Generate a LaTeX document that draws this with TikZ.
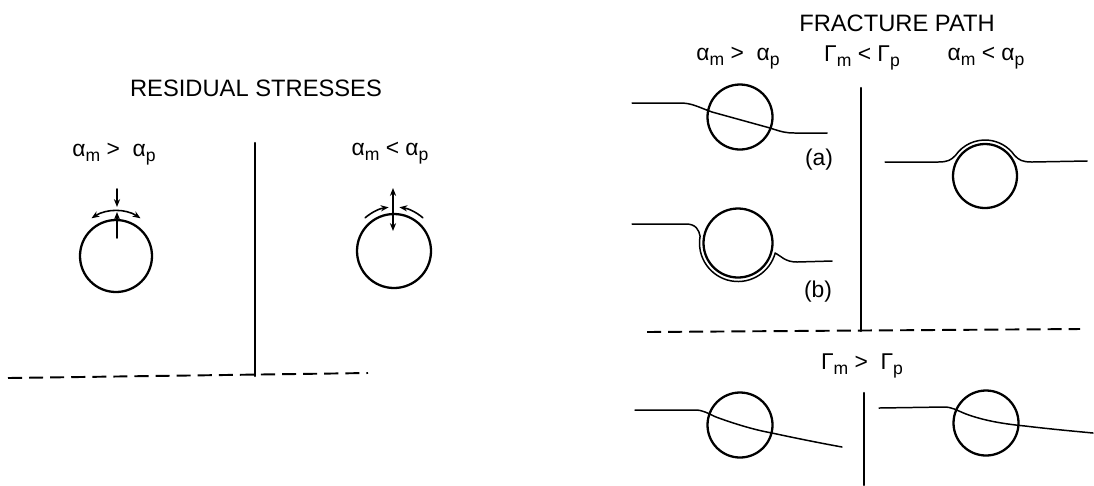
\documentclass[tikz,border=0pt]{standalone}
\usepackage{fontspec}
\setmainfont{Liberation Sans}
\usetikzlibrary{arrows.meta,calc}
\newcommand\lowr[1]{\raisebox{-0.45ex}{\fontsize{10}{10}\selectfont #1}}
\begin{document}
\begin{tikzpicture}[x=0.02cm, y=-0.02cm, font=\fontsize{13}{15}\selectfont, line join=round, line cap=round, >=stealth]

	\useasboundingbox (0,0) rectangle (1094,485);

	\tikzset{
		grain/.style={line width=1.3pt},
		crack/.style={line width=0.85pt},
		divider/.style={line width=1.4pt},
		border/.style={line width=1.1pt, dash pattern=on 8pt off 4pt, line cap=butt},
		stress/.style={line width=0.9pt, >={Stealth[length=4.5pt,width=3.5pt]}}
	}

	% residual stresses
	\node (rstitle) at (256,88) {\fontsize{13.5}{16}\selectfont RESIDUAL STRESSES};
	\node (rsleft) at (114,154) {α\lowr{m}\;>\;\ α\lowr{p}};
	\node (rsright) at (390,153) {α\lowr{m}\;<\;α\lowr{p}};

	\coordinate (gl) at (116,256);
	\coordinate (gr) at (394,251);
	\draw[grain] (gl) circle (36);
	\draw[grain] (gr) circle (37);

	\draw[stress,->] (117,189) -- (117,207);
	\draw[stress,->] (117,238) -- (117,212);
	\draw[stress,<->] ($(gl)+(237:45)$) arc[start angle=237, end angle=303, radius=45];

	\draw[stress,<->] (393,188) -- (393,231);
	\draw[stress,->] ($(gr)+(229:44)$) arc[start angle=229, end angle=263, radius=44];
	\draw[stress,->] ($(gr)+(311:44)$) arc[start angle=311, end angle=277, radius=44];

	\coordinate (vl1) at (255,143);
	\coordinate (vl2) at (255,376);
	\draw[divider] (vl1) -- (vl2);
	\coordinate (dl1) at (8,378);
	\coordinate (dl2) at (368,373);
	\draw[border] (dl1) -- (dl2);

	% fracture path
	\node (fptitle) at (897,23) {\fontsize{13.5}{16}\selectfont FRACTURE PATH};
	\node (fpa) at (738,58) {α\lowr{m}\;>\;\ α\lowr{p}};
	\node (fpg) at (862,58) {Γ\lowr{m}\;<\;Γ\lowr{p}};
	\node (fpb) at (986,58) {α\lowr{m}\;<\;α\lowr{p}};
	\node (fpc) at (862,366) {Γ\lowr{m}\;>\;\ Γ\lowr{p}};
	\node (casea) at (819,160) {(a)};
	\node (caseb) at (818,292) {(b)};

	\coordinate (ga) at (740,117);
	\coordinate (gb) at (738,243);
	\coordinate (gc) at (985,176);
	\coordinate (gd) at (740,425);
	\coordinate (ge) at (986,423);
	\draw[grain] (ga) circle (32.5);
	\draw[grain] (gb) circle (34.5);
	\draw[grain] (gc) circle (32);
	\draw[grain] (gd) circle (32.5);
	\draw[grain] (ge) circle (32.5);

	\draw[crack] (632,103) -- (680,103) .. controls (692,103) and (698,107) .. (712,112)
		-- (770,128) .. controls (782,132) and (786,133) .. (795,133) -- (827,133);
	\draw[crack] (632,224) -- (686,224) .. controls (696,224) and (699,230) .. ($(gb)+(190:38.5)$)
		arc[start angle=190, end angle=15, radius=38.5]
		.. controls (781,256) and (785,262) .. (797,262) -- (832,261);
	\draw[crack] (885,162) -- (938,162) .. controls (948,162) and (951,160) .. ($(gc)+(215:36)$)
		arc[start angle=215, end angle=325, radius=36]
		.. controls (1019,160) and (1022,162) .. (1032,162) -- (1087,161);
	\draw[crack] (635,410) -- (695,410) .. controls (703,410) and (707,413) .. (716,417)
		.. controls (735,424) and (755,430) .. (772,433) .. controls (795,438) and (820,443) .. (842,447);
	\draw[crack] (879,408) -- (944,407) .. controls (952,407) and (956,410) .. (966,414)
		.. controls (985,421) and (1005,424) .. (1025,426) .. controls (1050,429) and (1072,431) .. (1093,433);

	\coordinate (vr1) at (861,88);
	\coordinate (vr2) at (861,331);
	\coordinate (vr3) at (864,393);
	\coordinate (vr4) at (864,485);
	\draw[divider] (vr1) -- (vr2);
	\draw[divider] (vr3) -- (vr4);
	\coordinate (dr1) at (647,332);
	\coordinate (dr2) at (1080,329);
	\draw[border] (dr1) -- (dr2);
\end{tikzpicture}
\end{document}
